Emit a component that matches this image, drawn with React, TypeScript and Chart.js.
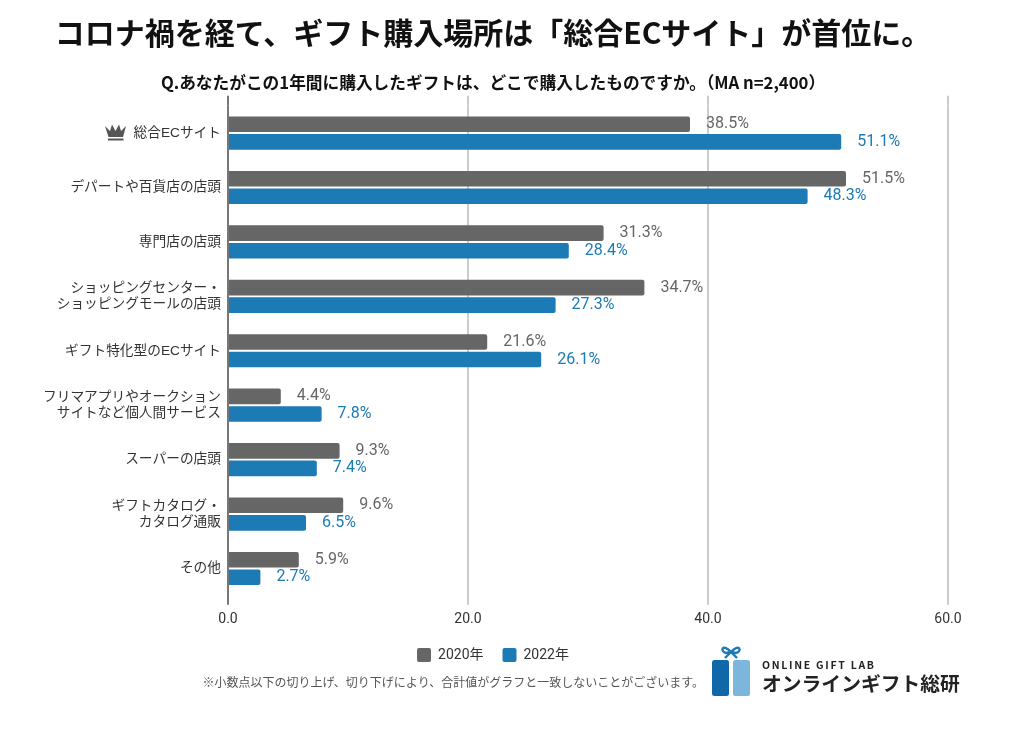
import React, { useEffect, useRef } from "react";
import { Chart, registerables } from "chart.js";

Chart.register(...registerables);

const categories: (string | string[])[] = [
  "総合ECサイト",
  "デパートや百貨店の店頭",
  "専門店の店頭",
  ["ショッピングセンター・", "ショッピングモールの店頭"],
  "ギフト特化型のECサイト",
  ["フリマアプリやオークション", "サイトなど個人間サービス"],
  "スーパーの店頭",
  ["ギフトカタログ・", "カタログ通販"],
  "その他",
];
const values2020 = [38.5, 51.5, 31.3, 34.7, 21.6, 4.4, 9.3, 9.6, 5.9];
const values2022 = [51.1, 48.3, 28.4, 27.3, 26.1, 7.8, 7.4, 6.5, 2.7];
const seriesNames = ["2020年", "2022年"];
const seriesColors = ["#666666", "#1c7ab4"];
const titleText = "コロナ禍を経て、ギフト購入場所は「総合ECサイト」が首位に。";
const subtitleText = "Q.あなたがこの1年間に購入したギフトは、どこで購入したものですか。（MA n=2,400）";
const noteText = "※小数点以下の切り上げ、切り下げにより、合計値がグラフと一致しないことがございます。";
const logoLatin = "ONLINE GIFT LAB";
const logoJapanese = "オンラインギフト総研";

const FONT = "Roboto, 'Noto Sans CJK JP', sans-serif";
const LABEL_FONT = "'Liberation Sans', 'Noto Sans CJK JP', sans-serif";
const JP = "'Noto Sans CJK JP', sans-serif";

const valueLabels = {
  id: "valueLabels",
  afterDatasetsDraw(chart: any) {
    const { ctx } = chart;
    ctx.save();
    ctx.font = `16px ${FONT}`;
    ctx.textAlign = "left";
    ctx.textBaseline = "middle";
    chart.data.datasets.forEach((ds: any, i: number) => {
      ctx.fillStyle = seriesColors[i];
      chart.getDatasetMeta(i).data.forEach((bar: any, j: number) => {
        ctx.fillText(`${ds.data[j].toFixed(1)}%`, bar.x + 16, bar.y);
      });
    });
    ctx.restore();
  },
};

const gridExtension = {
  id: "gridExtension",
  beforeDatasetsDraw(chart: any) {
    const { ctx, chartArea } = chart;
    const x = chart.scales.x;
    ctx.save();
    x.ticks.forEach((t: any) => {
      const px = x.getPixelForValue(t.value);
      ctx.strokeStyle = t.value === 0 ? "#777777" : "#cccccc";
      ctx.lineWidth = 2;
      ctx.beginPath();
      ctx.moveTo(px, chartArea.top - 10);
      ctx.lineTo(px, chartArea.top);
      ctx.stroke();
    });
    ctx.restore();
  },
};

const decorations = {
  id: "decorations",
  afterDraw(chart: any) {
    const { ctx } = chart;
    ctx.save();
    // crown beside the first category
    ctx.fillStyle = "#555555";
    ctx.beginPath();
    ctx.moveTo(105, 126);
    ctx.lineTo(110, 131);
    ctx.lineTo(112, 124.5);
    ctx.lineTo(115.5, 131);
    ctx.lineTo(119, 124.5);
    ctx.lineTo(121, 131);
    ctx.lineTo(126, 126);
    ctx.lineTo(123, 137);
    ctx.lineTo(108.5, 137);
    ctx.closePath();
    ctx.fill();
    ctx.fillRect(108, 138.5, 15.5, 2);

    // footnote
    ctx.fillStyle = "#555555";
    ctx.font = `12px ${JP}`;
    ctx.textAlign = "right";
    ctx.textBaseline = "middle";
    ctx.fillText(noteText, 704, 682.5);

    // logo
    ctx.fillStyle = "#1068a8";
    ctx.beginPath();
    ctx.roundRect(712, 660, 17, 36, 2.5);
    ctx.fill();
    ctx.fillStyle = "#7db6dc";
    ctx.beginPath();
    ctx.roundRect(733, 660, 17, 36, 2.5);
    ctx.fill();
    ctx.strokeStyle = "#1c7ab4";
    ctx.lineWidth = 2.4;
    ctx.beginPath();
    ctx.moveTo(731, 652);
    ctx.bezierCurveTo(723, 643, 719, 651, 726, 653);
    ctx.lineTo(731, 652);
    ctx.bezierCurveTo(739, 643, 743, 651, 736, 653);
    ctx.lineTo(731, 652);
    ctx.moveTo(731, 652);
    ctx.lineTo(725, 658);
    ctx.moveTo(731, 652);
    ctx.lineTo(737, 658);
    ctx.stroke();

    ctx.fillStyle = "#222222";
    ctx.textAlign = "left";
    ctx.font = `bold 10.5px ${JP}`;
    (ctx as any).letterSpacing = "1.7px";
    ctx.fillText(logoLatin, 762, 665);
    (ctx as any).letterSpacing = "0px";
    ctx.font = `bold 19.8px ${JP}`;
    ctx.fillText(logoJapanese, 762, 683);
    ctx.restore();
  },
};

export default function App() {
  const ref = useRef<HTMLCanvasElement | null>(null);

  useEffect(() => {
    if (!ref.current) return;
    const chart = new Chart(ref.current, {
      type: "bar",
      data: {
        labels: categories as any,
        datasets: [
          { label: seriesNames[0], data: values2020, backgroundColor: seriesColors[0] },
          { label: seriesNames[1], data: values2022, backgroundColor: seriesColors[1] },
        ],
      },
      options: {
        indexAxis: "y",
        responsive: false,
        animation: false,
        datasets: {
          bar: {
            categoryPercentage: 0.645,
            barPercentage: 0.89,
            borderRadius: 2,
            borderSkipped: "left",
          },
        },
        layout: { padding: { left: 38, right: 76, top: 0, bottom: 71 } },
        scales: {
          x: {
            min: 0,
            max: 60,
            border: { display: false },
            grid: {
              color: (c: any) => (c.tick && c.tick.value === 0 ? "#777777" : "#cccccc"),
              lineWidth: 2,
              drawTicks: true,
              tickLength: 9,
            },
            ticks: {
              stepSize: 20,
              padding: 6,
              maxRotation: 0,
              color: "#333333",
              font: { family: FONT, size: 14 },
              callback: (v: any) => Number(v).toFixed(1),
            },
            afterFit: (s: any) => {
              s.height = 33.3;
            },
          },
          y: {
            border: { display: false },
            grid: { display: false, drawTicks: false },
            ticks: {
              padding: 7,
              autoSkip: false,
              color: "#333333",
              font: { family: LABEL_FONT, size: 13.7, lineHeight: 1.17 },
            },
            afterFit: (s: any) => {
              s.width = 190;
            },
          },
        },
        plugins: {
          title: {
            display: true,
            text: titleText,
            color: "#111111",
            font: { family: JP, size: 30, weight: "bold", lineHeight: 1.2 },
            padding: { top: 15, bottom: 0 },
          },
          subtitle: {
            display: true,
            text: subtitleText,
            color: "#111111",
            font: { family: JP, size: 16.7, weight: "bold", lineHeight: 1.2 },
            padding: { top: 21.5, bottom: 13.3 },
          },
          legend: {
            position: "bottom",
            labels: {
              boxWidth: 14,
              boxHeight: 14,
              padding: 19,
              color: "#333333",
              useBorderRadius: true,
              borderRadius: 2,
              font: { family: FONT, size: 14 },
            },
          },
          tooltip: { enabled: false },
        },
      } as any,
      plugins: [gridExtension, valueLabels, decorations],
    });
    return () => chart.destroy();
  }, []);

  return (
    <div style={{ position: "absolute", left: 0, top: 0, width: 1024, height: 743 }}>
      <canvas ref={ref} width={1024} height={743} style={{ display: "block" }} />
    </div>
  );
}
